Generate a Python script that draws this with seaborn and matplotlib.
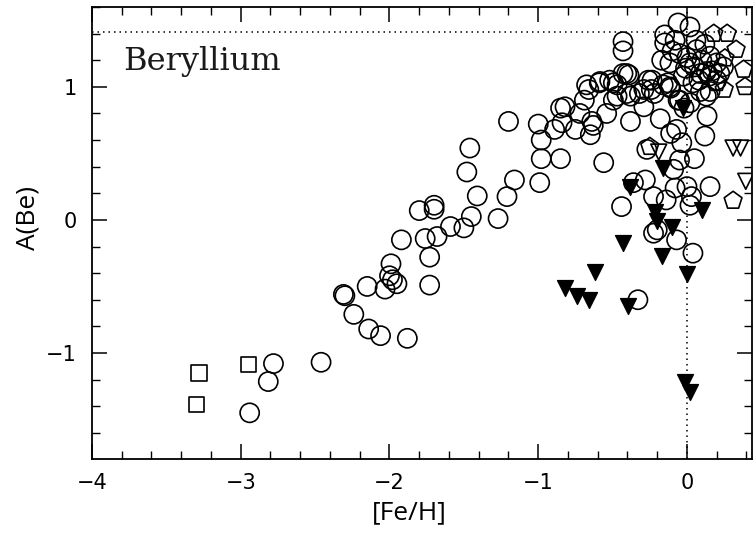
import matplotlib
matplotlib.use("Agg")
import matplotlib.pyplot as plt
import seaborn as sns
import pandas as pd
from matplotlib.ticker import MultipleLocator

# ---------------- data ----------------
circle_feh = [
    -2.94, -2.815, -2.78, -2.46,
    -2.31, -2.30, -2.24, -2.14, -2.06, -1.88,
    -2.15, -2.03, -2.00, -1.99, -1.95, -1.98,
    -1.92, -1.76, -1.80, -1.70, -1.70, -1.73, -1.73, -1.68,
    -1.59, -1.50, -1.45, -1.27, -1.41, -1.46, -1.48, -1.21, -1.16, -1.20,
    -0.99, -0.98, -0.85, -0.98, -1.00, -0.89, -0.84, -0.85, -0.82, -0.75, -0.72, -0.69, -0.66, -0.65, -0.63, -0.64, -0.56,
    -0.59, -0.52, -0.54, -0.47, -0.43, -0.39, -0.43, -0.43, -0.38, -0.38, -0.47, -0.29, -0.29, -0.235, -0.22, -0.18,
    -0.13, -0.11, -0.06, -0.02, -0.07, -0.11, 0.135, 0.12,
    -0.06, 0.02,
    -0.15, -0.15, -0.17, -0.08, -0.05, 0.02, 0.065, 0.12, 0.155, 0.13, 0.09, 0.20, 0.245, 0.04, -0.025, -0.01, 0.155, -0.115,
    -0.675, -0.585, -0.495, -0.405, -0.405, -0.495, -0.26, -0.24, -0.16, -0.115, -0.32, -0.05, 0.02, 0.13, 0.09,
    0.05, 0.10, 0.17, 0.08, 0.15, 0.20, 0.00, 0.06, -0.10, 0.22,
    -0.44, -0.36, -0.28, -0.27, -0.035, -0.05, 0.05, -0.09, 0.155, -0.225, -0.14, -0.08, 0.00, 0.03, 0.02,
    -0.225, -0.20, -0.07, 0.04, -0.33,
]
circle_abe = [
    -1.45, -1.215, -1.08, -1.07,
    -0.56, -0.57, -0.71, -0.82, -0.87, -0.89,
    -0.50, -0.52, -0.42, -0.33, -0.48, -0.45,
    -0.15, -0.14, 0.07, 0.08, 0.11, -0.28, -0.49, -0.125,
    -0.05, -0.06, 0.025, 0.01, 0.18, 0.54, 0.36, 0.175, 0.30, 0.74,
    0.28, 0.46, 0.46, 0.60, 0.72, 0.68, 0.73, 0.84, 0.85, 0.68, 0.80, 0.90, 0.98, 0.64, 0.71, 0.74, 0.43,
    1.03, 1.05, 0.80, 1.015, 1.10, 1.09, 1.34, 1.27, 0.93, 0.74, 0.93, 0.85, 0.98, 1.05, 0.95, 0.76,
    1.03, 0.99, 0.90, 0.84, 0.68, 0.65, 0.78, 0.63,
    1.48, 1.45,
    1.39, 1.33, 1.20, 1.35, 1.25, 1.18, 1.28, 1.32, 1.23, 1.115, 1.10, 1.05, 1.15, 1.03, 1.08, 1.14, 0.965, 1.18,
    1.015, 1.04, 1.03, 1.10, 0.95, 0.90, 1.05, 0.98, 1.015, 1.00, 0.95, 0.90, 0.88, 0.93, 0.965,
    1.15, 1.20, 1.12, 1.05, 1.08, 1.18, 1.22, 1.35, 1.27, 1.10,
    0.10, 0.28, 0.30, 0.53, 0.58, 0.45, 0.46, 0.38, 0.25, 0.175, 0.15, 0.24, 0.25, 0.175, 0.11,
    -0.10, -0.075, -0.15, -0.25, -0.60,
]

square_feh = [-3.28, -3.30, -2.95]
square_abe = [-1.15, -1.39, -1.085]

pentagon_feh = [0.18, 0.27, 0.33, 0.38, 0.39, 0.255, 0.20, 0.25, -0.25, 0.31]
pentagon_abe = [1.40, 1.40, 1.28, 1.13, 1.00, 1.215, 1.03, 0.98, 0.55, 0.145]

open_tri_feh = [-0.19, 0.31, 0.36, 0.395]
open_tri_abe = [0.51, 0.54, 0.54, 0.29]

filled_tri_feh = [-0.025, -0.16, -0.38, 0.10, -0.215, -0.20, -0.10, -0.43, -0.165, 0.00,
                  -0.62, -0.82, -0.74, -0.66, -0.395, -0.015, 0.02]
filled_tri_abe = [0.84, 0.39, 0.25, 0.075, 0.06, -0.01, -0.05, -0.175, -0.27, -0.41,
                  -0.39, -0.51, -0.575, -0.60, -0.65, -1.215, -1.29]

solar_abe = 1.41
solar_feh = 0.0

x_ticks = [-4, -3, -2, -1, 0]
y_ticks = [-1, 0, 1]

# ---------------- build table ----------------
frames = []
for kind, xs, ys in [("circle", circle_feh, circle_abe),
                     ("square", square_feh, square_abe),
                     ("pentagon", pentagon_feh, pentagon_abe),
                     ("open_tri", open_tri_feh, open_tri_abe),
                     ("filled_tri", filled_tri_feh, filled_tri_abe)]:
    frames.append(pd.DataFrame({"feh": xs, "abe": ys, "kind": kind}))
df = pd.concat(frames, ignore_index=True)

styles = {
    "circle":     dict(marker="o", s=190, facecolor="none", lw=1.2),
    "square":     dict(marker="s", s=120, facecolor="none", lw=1.2),
    "pentagon":   dict(marker="p", s=180, facecolor="none", lw=1.2),
    "open_tri":   dict(marker="v", s=130, facecolor="none", lw=1.2),
    "filled_tri": dict(marker="v", s=130, facecolor="black", lw=1.0),
}

# ---------------- plot ----------------
sns.set_style("ticks")
plt.rcParams["font.family"] = ["DejaVu Sans"]
plt.rcParams["axes.linewidth"] = 1.3
plt.rcParams["text.color"] = "black"

fig = plt.figure(figsize=(7.54, 5.33), dpi=100)
ax = fig.add_axes([92 / 754, 74 / 533, 660 / 754, 452 / 533])

ax.axhline(solar_abe, color="black", lw=1.1, ls=(0, (1, 2.6)), zorder=1)
ax.axvline(solar_feh, color="black", lw=1.1, ls=(0, (1, 2.6)), zorder=1)

for kind, st in styles.items():
    sub = df[df["kind"] == kind]
    sns.scatterplot(data=sub, x="feh", y="abe", ax=ax, marker=st["marker"], s=st["s"],
                    facecolor=st["facecolor"], edgecolor="black", linewidth=st["lw"],
                    legend=False, zorder=3)

ax.set_xlim(-4, 0.437)
ax.set_ylim(-1.797, 1.60)
ax.set_xticks(x_ticks)
ax.set_yticks(y_ticks)
ax.xaxis.set_minor_locator(MultipleLocator(0.2))
ax.yaxis.set_minor_locator(MultipleLocator(0.2))
ax.tick_params(which="both", direction="in", top=True, right=True, colors="black")
ax.tick_params(which="major", length=11, width=1.1, labelsize=15)
ax.tick_params(which="minor", length=5.5, width=1.0)
ax.tick_params(axis="x", which="major", pad=10)
ax.tick_params(axis="y", which="major", pad=11)
ax.set_xlabel("")
ax.set_ylabel("")
for sp in ax.spines.values():
    sp.set_color("black")

ax.text(0.047, 0.861, "Beryllium", transform=ax.transAxes, ha="left", va="baseline",
        fontsize=23, family=["DejaVu Serif"], color="#1a1a1a", fontweight="light")

fig.text(28 / 754, 1 - 218 / 533, "A(Be)", rotation=90, ha="center", va="center",
         fontsize=19, family=["Open Sans", "DejaVu Sans"], color="black")
fig.text(409 / 754, 1 - 513 / 533, "[Fe/H]", ha="center", va="center",
         fontsize=19, family=["Open Sans", "DejaVu Sans"], color="black")

fig.savefig("out.png", dpi=100)
